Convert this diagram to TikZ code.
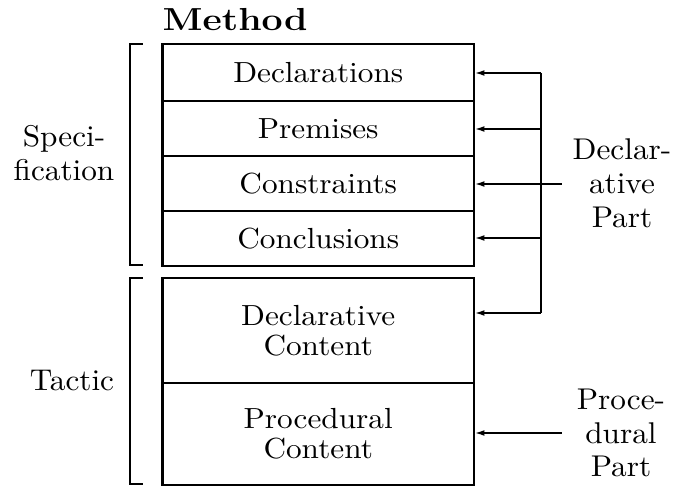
\documentclass[tikz,border=0pt]{standalone}
\usetikzlibrary{arrows.meta}
\begin{document}
\begin{tikzpicture}[x=0.32pt,y=-0.32pt,
  box/.style={draw, line width=0.7pt, minimum width=99.7pt, inner sep=0pt},
  txt/.style={align=center, inner sep=0pt, yscale=0.93, transform shape, font=\fontsize{10}{10.4}\selectfont},
  lab/.style={align=center, inner sep=0pt, yscale=0.96, transform shape, font=\fontsize{10}{11.3}\selectfont},
  arr/.style={line width=0.45pt, -{Latex[length=3pt,width=1.9pt]}},
  link/.style={line width=0.45pt},
  brk/.style={line width=0.55pt}]
\useasboundingbox (0,0) rectangle (676,487);
% title
\node[anchor=base west, inner sep=0pt, yscale=0.85, transform shape, font=\fontsize{12}{14}\selectfont\bfseries] (title) at (162,31) {Method};
% specification rows
\node[box, minimum height=18.24pt] (decl) at (318.25,72.5) {};
\node[box, minimum height=17.6pt] (prem) at (318.25,128.5) {};
\node[box, minimum height=17.6pt] (cons) at (318.25,183.5) {};
\node[box, minimum height=17.6pt] (conc) at (318.25,238.5) {};
% tactic rows
\node[box, minimum height=33.6pt] (dcon) at (318.25,330.5) {};
\node[box, minimum height=32.64pt] (pcon) at (318.25,434) {};
% texts in rows
\node[txt] (declt) at (decl) {Declarations};
\node[txt] (premt) at (prem) {Premises};
\node[txt] (const) at (cons) {Constraints};
\node[txt] (conct) at (conc) {Conclusions};
\node[txt] (dcont) at (dcon) {Declarative\\Content};
\node[txt] (pcont) at (pcon) {Procedural\\Content};
% left labels
\node[lab] (spec) at (64,153) {Speci-\\fication};
\node[lab] (tact) at (72,381) {Tactic};
% right labels
\node[lab] (dpart) at (622,183) {Declar-\\ative\\Part};
\node[lab] (ppart) at (621,433) {Proce-\\dural\\Part};
% brackets
\draw[brk] (143,44) -- (130,44) -- (130,265) -- (143,265);
\draw[brk] (143,278) -- (130,278) -- (130,484) -- (143,484);
% connectors
\coordinate (a1) at (541,73);
\coordinate (a2) at (541,129);
\coordinate (a3) at (562,184);
\coordinate (a4) at (541,238);
\coordinate (a5) at (541,313);
\coordinate (a6) at (562,433);
\draw[link] (a1) -- (a5);
\draw[arr] (a1) -- (a1 -| decl.east);
\draw[arr] (a2) -- (a2 -| prem.east);
\draw[arr] (a3) -- (a3 -| cons.east);
\draw[arr] (a4) -- (a4 -| conc.east);
\draw[arr] (a5) -- (a5 -| dcon.east);
\draw[arr] (a6) -- (a6 -| pcon.east);
\end{tikzpicture}
\end{document}
